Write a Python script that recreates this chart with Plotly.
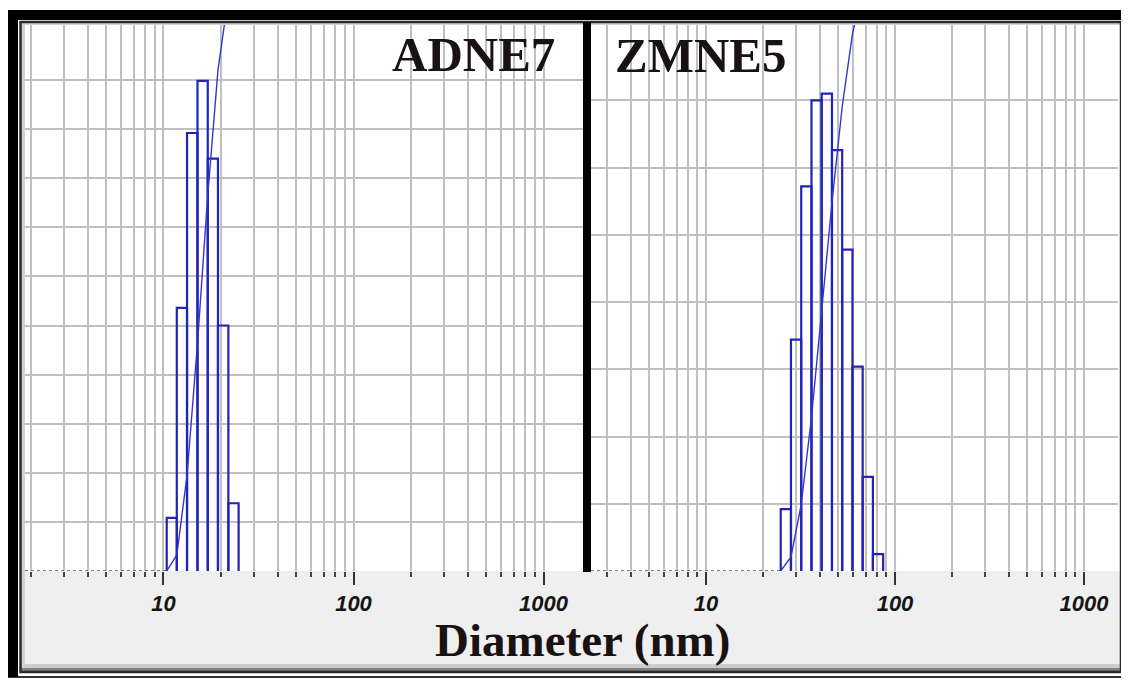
import plotly.graph_objects as go

# page body has an 8px margin, so the figure is placed at (8, 8)
OFF = 8
W, H = 1129 - OFF, 680 - OFF

# ---------------- data ----------------
# ADNE7: bin edges (nm) and frequency (%)
adne7_edges = [10.4, 11.75, 13.3, 15.1, 17.1, 19.35, 21.95, 24.85]
adne7_freq = [2.7, 13.4, 22.3, 24.95, 21.0, 12.5, 3.45]

# ZMNE5: bin edges (nm) and frequency (%)
zmne5_edges = [24.85, 28.15, 31.9, 36.15, 40.95, 46.4, 52.55, 59.55, 67.45, 76.4, 86.55]
zmne5_freq = [2.3, 8.6, 14.3, 17.5, 17.75, 15.65, 11.95, 7.6, 3.5, 0.63]

major_ticks = [10, 100, 1000]
major_text = ["10", "100", "1000"]
minor_ticks = [2, 3, 4, 5, 6, 7, 8, 9, 20, 30, 40, 50, 60, 70, 80, 90,
               200, 300, 400, 500, 600, 700, 800, 900, 2000]
freq_grid = [2.5, 5, 7.5, 10, 12.5, 15, 17.5, 20, 22.5, 25]

labels = ["ADNE7", "ZMNE5"]
x_title = "Diameter (nm)"

# ---------------- helpers ----------------
BAR_COL = "#2323b8"
CUM_COL = "#3535d0"
GRID_COL = "#c0c0c0"


def outline(edges, freq):
    xs, ys = [], []
    for i, h in enumerate(freq):
        l, r = edges[i], edges[i + 1]
        xs += [l, l, r, r, None]
        ys += [0, h, h, 0, None]
    return xs, ys


def cumulative(freq):
    out, s = [0.0], 0.0
    for f in freq:
        s += f
        out.append(s)
    return out


def px(x):
    return (x - OFF) / W


def py(y):
    return (H - (y - OFF)) / H


fig = go.Figure()

panels = [
    dict(edges=adne7_edges, freq=adne7_freq, xa="x", ya="y", ya2="y2",
         xmin_log=0.2711),
    dict(edges=zmne5_edges, freq=zmne5_freq, xa="x2", ya="y3", ya2="y4",
         xmin_log=0.3915),
]

for p in panels:
    # zero level (dotted) before distribution
    fig.add_trace(go.Scatter(
        x=[10 ** p["xmin_log"], p["edges"][0]], y=[0, 0],
        xaxis=p["xa"], yaxis=p["ya"], mode="lines",
        line=dict(color="#555555", width=1.6, dash="dot"),
        hoverinfo="skip", showlegend=False))
    bx, by = outline(p["edges"], p["freq"])
    fig.add_trace(go.Scatter(
        x=bx, y=by, xaxis=p["xa"], yaxis=p["ya"], mode="lines",
        line=dict(color=BAR_COL, width=2.2), showlegend=False))
    fig.add_trace(go.Scatter(
        x=p["edges"], y=cumulative(p["freq"]), xaxis=p["xa"], yaxis=p["ya2"],
        mode="lines", line=dict(color=CUM_COL, width=1.4), showlegend=False,
        cliponaxis=True))

ydom = [py(571), py(25)]


def xaxis_cfg(domain, rng, anchor):
    return dict(
        type="log", domain=domain, range=rng, anchor=anchor,
        tickmode="array", tickvals=major_ticks, ticktext=major_text,
        ticks="outside", ticklen=13, tickwidth=1.8, tickcolor="#333333",
        tickfont=dict(family="Liberation Sans, Arial", size=22, color="#151515",
                      weight="bold", style="italic"),
        showgrid=True, gridcolor=GRID_COL, gridwidth=2,
        minor=dict(tickvals=minor_ticks, ticks="outside", ticklen=5,
                   tickwidth=1.5, tickcolor="#444444", showgrid=True,
                   gridcolor=GRID_COL, gridwidth=2),
        showline=False, zeroline=False, fixedrange=True,
    )


def yaxis_cfg(rng, anchor, grid):
    return dict(domain=ydom, range=rng, anchor=anchor,
                tickmode="array", tickvals=grid, showticklabels=False,
                ticks="", showgrid=True, gridcolor=GRID_COL, gridwidth=2,
                zeroline=False, showline=False)


fig.update_layout(
    width=W, height=H,
    margin=dict(l=0, r=0, t=0, b=0),
    paper_bgcolor="white", plot_bgcolor="white",
    showlegend=False,
    xaxis=xaxis_cfg([px(25), px(583)], [0.2711, 3.2079], "y"),
    xaxis2=xaxis_cfg([px(591), px(1118)], [0.3915, 3.1799], "y3"),
    yaxis=yaxis_cfg([0, 27.8], "x", freq_grid),
    yaxis2=dict(domain=ydom, range=[0, 92], overlaying="y", anchor="x",
                visible=False),
    yaxis3=yaxis_cfg([0, 20.3], "x2", freq_grid[:7]),
    yaxis4=dict(domain=ydom, range=[0, 89.5], overlaying="y3", anchor="x2",
                visible=False),
)

shapes = [
    # gray band under the axes
    dict(type="rect", xref="paper", yref="paper", x0=px(20), x1=px(1121),
         y0=py(668), y1=py(571), fillcolor="#efefef", line=dict(width=0),
         layer="below"),
    dict(type="rect", xref="paper", yref="paper", x0=px(20), x1=px(1121),
         y0=py(668), y1=py(664), fillcolor="#cdcdcd", line=dict(width=0),
         layer="below"),
    dict(type="rect", xref="paper", yref="paper", x0=px(20), x1=px(1121),
         y0=py(671), y1=py(668), fillcolor="#808080", line=dict(width=0),
         layer="below"),
    # soft inner shading on left / top
    dict(type="rect", xref="paper", yref="paper", x0=px(20), x1=px(25),
         y0=py(668), y1=py(22), fillcolor="#d2d2d2", line=dict(width=0),
         layer="below"),
    dict(type="rect", xref="paper", yref="paper", x0=px(20), x1=px(1121),
         y0=py(25), y1=py(22), fillcolor="#d2d2d2", line=dict(width=0),
         layer="below"),
    # inner border
    dict(type="rect", xref="paper", yref="paper", x0=px(20.5), x1=px(1121),
         y0=py(672), y1=py(22), line=dict(color="#2a2a2a", width=2.5)),
    # outer thin frame
    dict(type="rect", xref="paper", yref="paper", x0=px(8), x1=px(1126),
         y0=py(677), y1=py(11), line=dict(color="#333333", width=2)),
    # thick black top and left bars
    dict(type="rect", xref="paper", yref="paper", x0=px(8), x1=px(1129),
         y0=py(20), y1=py(10), fillcolor="black", line=dict(width=0)),
    dict(type="rect", xref="paper", yref="paper", x0=px(8), x1=px(18),
         y0=py(677), y1=py(10), fillcolor="black", line=dict(width=0)),
    # divider between the two panels
    dict(type="rect", xref="paper", yref="paper", x0=px(583), x1=px(591),
         y0=py(572), y1=py(22), fillcolor="black", line=dict(width=0)),
]
fig.update_layout(shapes=shapes)

title_font = dict(family="Liberation Serif, Times New Roman", size=49,
                  color="#1a1212", weight="bold")
fig.add_annotation(text=labels[0], xref="paper", yref="paper", x=px(557),
                   y=py(55), xanchor="right", yanchor="middle",
                   showarrow=False, font=title_font)
fig.add_annotation(text=labels[1], xref="paper", yref="paper", x=px(613),
                   y=py(56), xanchor="left", yanchor="middle",
                   showarrow=False, font=title_font)
fig.add_annotation(text=x_title, xref="paper", yref="paper", x=px(582),
                   y=py(640), xanchor="center", yanchor="middle",
                   showarrow=False,
                   font=dict(family="Liberation Serif, Times New Roman",
                             size=47, color="#1a1212", weight="bold"))

fig.write_html("out.html")
